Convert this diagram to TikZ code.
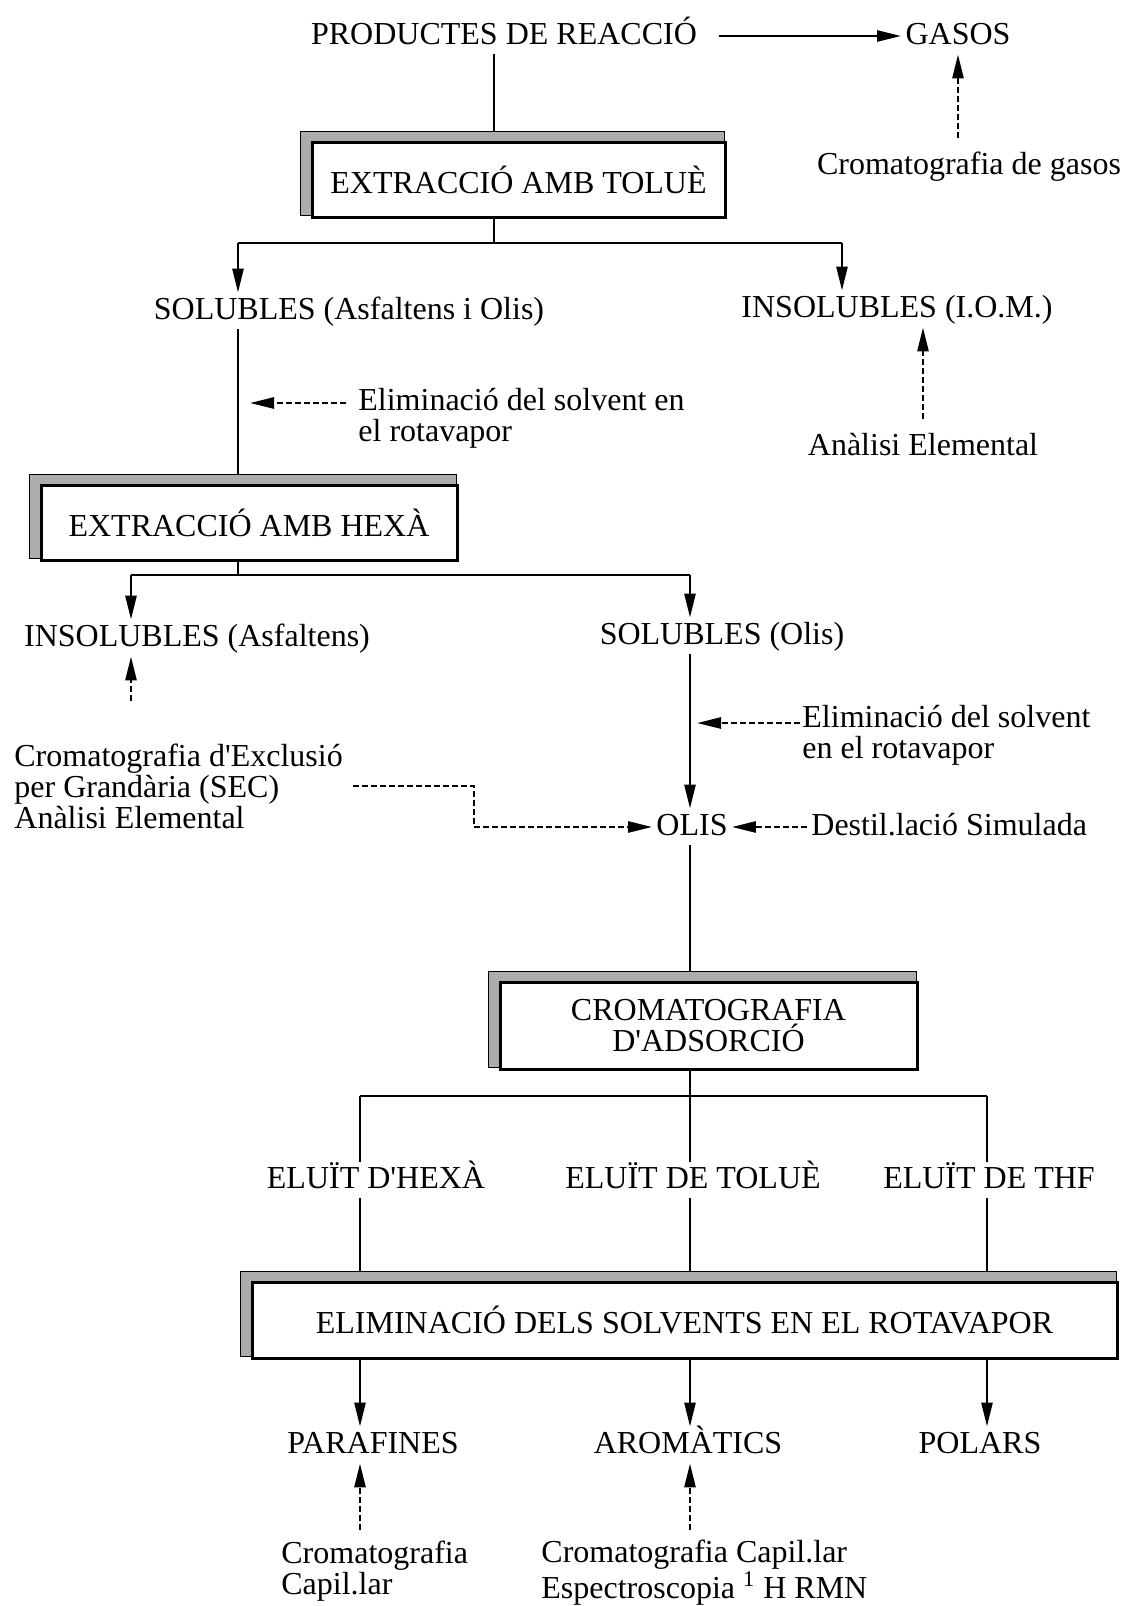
\documentclass[tikz,border=0pt]{standalone}
\usepackage{fontspec}
\setmainfont{Liberation Serif}[Ligatures=TeXOff]
\usetikzlibrary{arrows.meta,positioning,backgrounds}

\tikzset{
  lbl/.style={text height=11pt, text depth=3pt, inner sep=2pt},
  multi/.style={align=left, inner sep=1pt},
  procbox/.style={draw, fill=white, line width=1.5pt, align=center, inner sep=0pt},
  boxshadow/.style={fill=gray!65, draw=black, line width=0.6pt},
  con/.style={line width=1.3pt},
  arr/.style={con, -{Triangle[length=12pt,width=5.5pt]}},
  darr/.style={arr, dash pattern=on 3pt off 1.5pt},
}

\begin{document}
\begin{tikzpicture}[x=0.5pt, y=-0.5pt, font=\fontsize{16}{15.5}\selectfont]
\useasboundingbox (0,0) rectangle (1125,1606);

\node[lbl] (prod) at (504,36) {PRODUCTES DE REACCIÓ};
\node[lbl] (gas) at (958,36) {GASOS};
\node[lbl] (cgas) at (969,166) {Cromatografia de gasos};
\node[procbox, minimum width=206.5pt, minimum height=37.5pt] (tol) at (518.5,179.5) {EXTRACCIÓ AMB TOLUÈ};

\node[lbl] (solA) at (349,311) {SOLUBLES (Asfaltens i Olis)};
\node[lbl] (insA) at (897,309) {INSOLUBLES (I.O.M.)};
\node[multi, anchor=west] (elim1) at (356,418) {Eliminació del solvent en\\el rotavapor};
\node[lbl] (anEl) at (923,447) {Anàlisi Elemental};
\node[procbox, minimum width=208pt, minimum height=37.5pt] (hex) at (249,522.5) {EXTRACCIÓ AMB HEXÀ};

\node[lbl] (insB) at (197,638) {INSOLUBLES (Asfaltens)};
\node[lbl] (solB) at (722,636) {SOLUBLES (Olis)};
\node[multi, anchor=west] (elim2) at (800,735) {Eliminació del solvent\\en el rotavapor};
\node[multi, anchor=west] (sec) at (12,786) {Cromatografia d'Exclusió\\per Grandària (SEC)\\Anàlisi Elemental};
\node[lbl] (olis) at (692,827) {OLIS};
\node[lbl, anchor=west] (dest) at (807,827) {Destil.lació Simulada};
\node[procbox, minimum width=208.5pt, minimum height=43.5pt] (ads) at (708.5,1025.5) {CROMATOGRAFIA\\D'ADSORCIÓ};

\node[lbl] (eluH) at (376,1180) {ELUÏT D'HEXÀ};
\node[lbl] (eluT) at (693,1180) {ELUÏT DE TOLUÈ};
\node[lbl] (eluF) at (989,1180) {ELUÏT DE THF};
\node[procbox, minimum width=432.5pt, minimum height=38pt] (sol) at (684.5,1320) {ELIMINACIÓ DELS SOLVENTS EN EL ROTAVAPOR};

\node[lbl] (par) at (373,1445) {PARAFINES};
\node[lbl] (aro) at (688,1445) {AROMÀTICS};
\node[lbl] (pol) at (980,1445) {POLARS};
\node[multi, anchor=west] (cap1) at (279,1571) {Cromatografia\\Capil.lar};
\node[multi, anchor=west] (cap2) at (539,1573) {Cromatografia Capil.lar\\Espectroscopia \textsuperscript{1} H RMN};

% shadows behind the boxes
\begin{scope}[on background layer]
\foreach \b in {tol,hex,ads,sol}
  \filldraw[boxshadow] ([shift={(-10,-9)}]\b.north west) rectangle ([shift={(-2,-3)}]\b.south east);
\end{scope}

\draw[arr, shorten <=9pt] (prod.east) -- (gas.west);
\draw[darr, shorten <=5pt] (cgas.north -| gas) -- (gas.south);
\draw[con, shorten >=4.5pt] ([xshift=-5pt]prod.south) -- ([xshift=-5pt]prod.south |- tol.north);

\coordinate (t0) at (494,243);
\coordinate (l1) at (238,243);
\coordinate (r1) at (842,243);
\draw[con] (tol.south -| t0) -- (t0);
\draw[con] (l1) -- (r1);
\draw[arr] (l1) -- (l1 |- solA.north);
\draw[arr] (r1) -- (r1 |- insA.north);
\draw[darr, shorten <=5pt, shorten >=6pt] ([yshift=7.5pt]elim1.west) -- ([yshift=7.5pt]elim1.west -| l1);
\draw[darr, shorten <=5pt] (anEl.north) -- (anEl.north |- insA.south);
\draw[con, shorten >=4.5pt] (l1 |- solA.south) -- (l1 |- hex.north);

\coordinate (t1) at (238,575);
\coordinate (l2) at (131,575);
\coordinate (r2) at (690,575);
\draw[con] (hex.south -| t1) -- (t1);
\draw[con] (l2) -- (r2);
\draw[arr] (l2) -- (l2 |- insB.north);
\draw[arr] (r2) -- (r2 |- solB.north);
\draw[darr, shorten <=20pt] (l2 |- sec.north) -- (l2 |- insB.south);
\draw[arr] (r2 |- solB.south) -- (r2 |- olis.north);
\draw[darr, shorten >=3.5pt] ([yshift=6pt]elim2.west) -- ([yshift=6pt]elim2.west -| r2);
\draw[darr] ([xshift=4pt]sec.east) -- ++(121,0) |- (olis.west);
\draw[darr] (dest.west) -- (olis.east);
\draw[con, shorten >=4.5pt] (r2 |- olis.south) -- (r2 |- ads.north);

\coordinate (e1) at (360,1096);
\coordinate (e2) at (690,1096);
\coordinate (e3) at (987,1096);
\draw[con] (ads.south -| e2) -- (e2);
\draw[con] (e1) -- (e3);
\foreach \c/\n/\m in {e1/eluH/par, e2/eluT/aro, e3/eluF/pol} {
  \draw[con] (\c) -- (\c |- \n.north);
  \draw[con, shorten >=4.5pt] (\c |- \n.south) -- (\c |- sol.north);
  \draw[arr] (\c |- sol.south) -- (\c |- \m.north);
}
\draw[darr, shorten <=4pt] (e1 |- cap1.north) -- (e1 |- par.south);
\draw[darr, shorten <=4pt] (e2 |- cap2.north) -- (e2 |- aro.south);

\end{tikzpicture}
\end{document}
